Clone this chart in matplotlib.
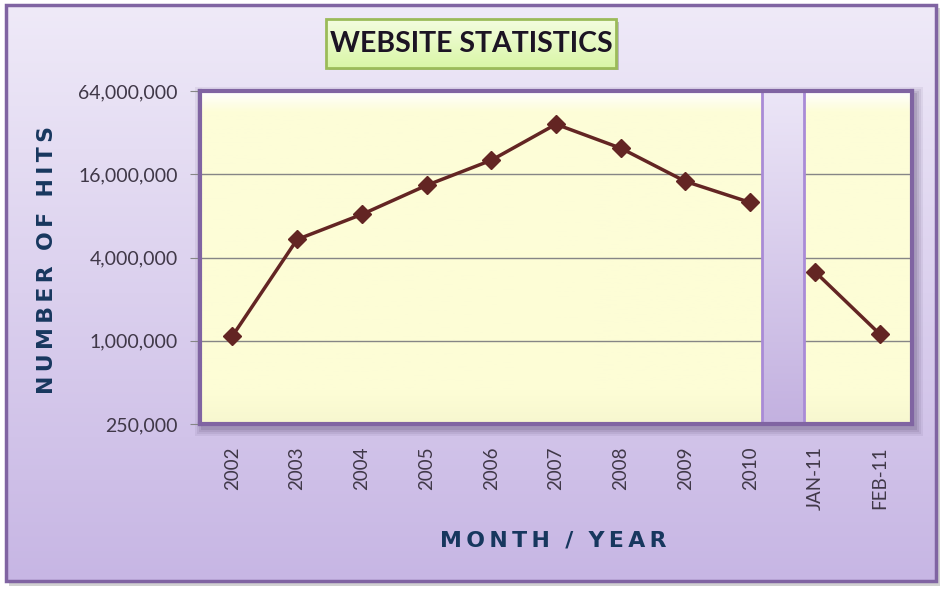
import matplotlib
matplotlib.use('Agg')
import matplotlib.pyplot as plt
import numpy as np
from matplotlib.patches import Rectangle
from matplotlib.colors import LinearSegmentedColormap
from matplotlib.ticker import FixedLocator, FuncFormatter, NullLocator

categories = ['2002', '2003', '2004', '2005', '2006', '2007', '2008', '2009', '2010', 'JAN-11', 'FEB-11']
hits = [1080000, 5400000, 8200000, 13300000, 20200000, 36800000, 24700000, 14200000, 10000000, 3160000, 1120000]
y_ticks = [250000, 1000000, 4000000, 16000000, 64000000]
title = 'WEBSITE STATISTICS'
y_title = 'NUMBER OF HITS'
x_title = 'MONTH / YEAR'

plt.rcParams['font.family'] = ['Lato', 'DejaVu Sans']


def spaced(s):
    return '\u2002\u2009'.join('\u2009'.join(w) for w in s.split(' '))


W, H = 950, 595
fig = plt.figure(figsize=(9.5, 5.95), dpi=100)
fig.patch.set_facecolor('white')

# background layer in pixel coords
bg = fig.add_axes([0, 0, 1, 1], zorder=-10)
bg.set_xlim(0, W)
bg.set_ylim(H, 0)
bg.axis('off')
grad = np.linspace(0, 1, 256)[:, None]
# outer shadow
bg.add_patch(Rectangle((9, 8), 931, 578, facecolor='#9a9a9a', alpha=0.45, edgecolor='none'))
cmap_bg = LinearSegmentedColormap.from_list('bg', ['#efeaf8', '#c7b6e4'])
bg.imshow(grad, extent=[6, 936, 581, 5], cmap=cmap_bg, aspect='auto', zorder=1)
bg.add_patch(Rectangle((6, 5), 930, 576, fill=False, edgecolor='#8064a2', lw=2.5, zorder=2))

# plot area shadow
for i, a in enumerate([0.10, 0.12, 0.15, 0.2]):
    d = 8 - 2 * i
    bg.add_patch(Rectangle((200 - d + 3, 91 - d + 4), 712 + 2 * d, 333 + 2 * d,
                           facecolor='#6a5a80', alpha=a, edgecolor='none', zorder=3))

# title box
bg.add_patch(Rectangle((329, 22), 290, 48, facecolor='#8a8a8a', alpha=0.5, edgecolor='none', zorder=3))
cmap_t = LinearSegmentedColormap.from_list('t', ['#f4fde0', '#d9f6a6'])
bg.imshow(grad, extent=[326, 616, 68, 19], cmap=cmap_t, aspect='auto', zorder=4)
bg.add_patch(Rectangle((326, 19), 290, 49, fill=False, edgecolor='#9bbb59', lw=2, zorder=5))
bg.text(471, 44, title, ha='center', va='center', fontsize=20.5, fontweight='bold',
        color='#1c1424', zorder=6)

# axis titles
bg.text(47, 260, spaced(y_title), rotation=90, ha='center', va='center',
        fontsize=15.8, fontweight='bold', color='#17375e', zorder=6, family='DejaVu Sans')
bg.text(553, 541, spaced(x_title), ha='center', va='center',
        fontsize=15.8, fontweight='bold', color='#17375e', zorder=6, family='DejaVu Sans')

pos = [200 / W, 1 - 424 / H, 712 / W, 333 / H]

# plot area background (linear coords)
pbg = fig.add_axes(pos, zorder=-5)
pbg.set_xlim(-0.5, 10.5)
pbg.set_ylim(0, 1)
pbg.axis('off')
cmap_p = LinearSegmentedColormap.from_list('p', [(0, '#ffffff'), (0.06, '#fdfdd8'), (0.9, '#fdfdd6'),
                                                 (1.0, '#f7f7cf')])
pbg.imshow(grad, extent=[-0.5, 10.5, 0, 1], cmap=cmap_p, aspect='auto')

ax = fig.add_axes(pos, zorder=1)
ax.set_facecolor('none')
x = np.arange(len(categories))
ax.set_yscale('log', base=2)
ax.set_xticks(x)
ax.set_xticklabels(categories, rotation=90)
ax.yaxis.set_major_locator(FixedLocator(y_ticks))
ax.yaxis.set_minor_locator(NullLocator())
ax.yaxis.set_major_formatter(FuncFormatter(lambda v, p: f'{v:,.0f}'))
ax.grid(axis='y', color='#868686', lw=1)
ax.set_axisbelow(True)

# band between 2010 and JAN-11
cmap_band = LinearSegmentedColormap.from_list('b', ['#ece6f7', '#c3b1e0'])
bt = ax.get_xaxis_transform()
ax.imshow(grad, extent=[8.18, 8.83, 0, 1], cmap=cmap_band, aspect='auto',
          transform=bt, zorder=2)
for xe in (8.18, 8.83):
    ax.axvline(xe, color='#a98bd6', lw=2, zorder=2.5)

ax.plot(x[:9], hits[:9], color='#632523', lw=2.5, marker='D', markersize=9, zorder=3)
ax.plot(x[9:], hits[9:], color='#632523', lw=2.5, marker='D', markersize=9, zorder=3)

ax.set_xlim(-0.5, len(categories) - 0.5)
ax.set_ylim(y_ticks[0], y_ticks[-1])

for s in ax.spines.values():
    s.set_color('#8064a2')
    s.set_linewidth(3)

ax.tick_params(axis='y', length=7, color='#868686', pad=9, labelsize=14, labelcolor='#403848')
ax.tick_params(axis='x', length=0, pad=16, labelsize=13.5, labelcolor='#403848')

fig.savefig('out.png', dpi=100, facecolor='white')
